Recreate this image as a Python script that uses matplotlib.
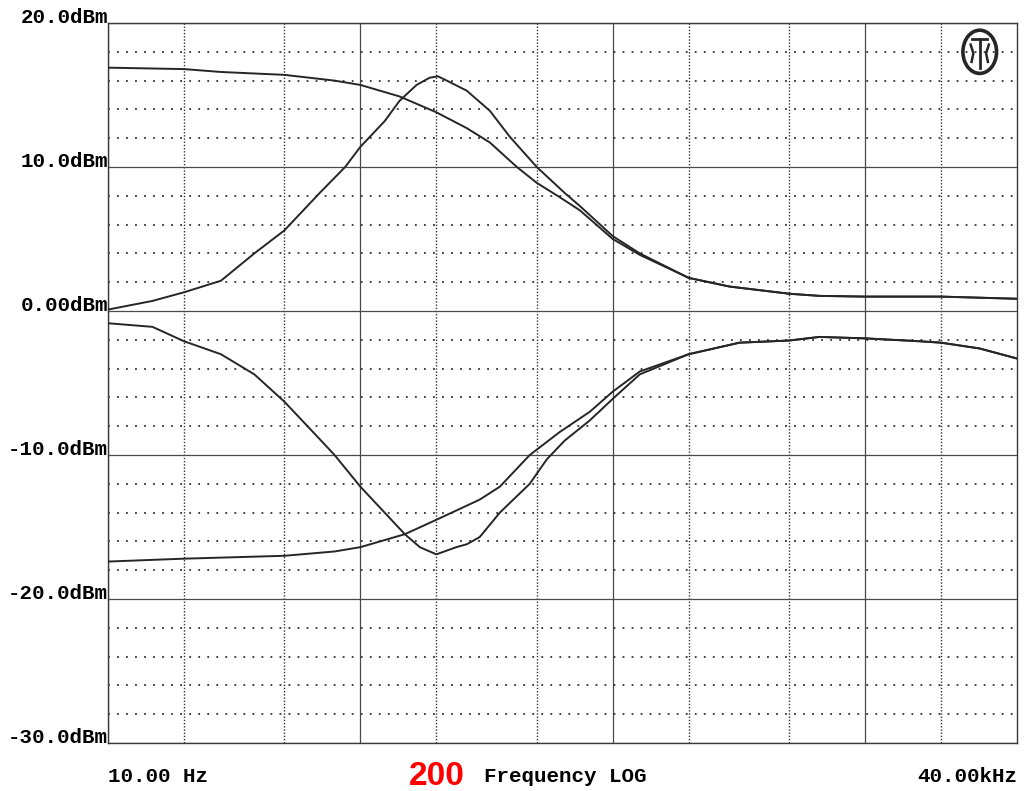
import numpy as np
import matplotlib
matplotlib.use("Agg")
import matplotlib.pyplot as plt
from matplotlib.patches import Ellipse
from matplotlib.ticker import FixedLocator, NullFormatter
import matplotlib.transforms as mtrans

# frequency (Hz) / level (dBm)
boost_peak_f = [10, 15, 20, 28, 38, 50, 69, 87, 100, 125, 143, 167, 188, 203, 220, 264,
                326, 391, 500, 645, 740, 1000, 1280, 2000, 2900, 5000, 6600, 10000, 20000, 40000]
boost_peak_db = [0.1, 0.7, 1.3, 2.1, 4.0, 5.6, 8.2, 10.0, 11.4, 13.2, 14.6, 15.7, 16.2, 16.3, 16.0, 15.3,
                 13.9, 12.1, 10.0, 8.2, 7.3, 5.2, 4.0, 2.3, 1.7, 1.2, 1.05, 1.0, 1.0, 0.85]

boost_shelf_f = [10, 20, 28, 50, 79, 100, 143, 200, 264, 326, 417, 500, 617, 740, 1000,
                 1280, 2000, 2900, 5000, 6600, 10000, 20000, 40000]
boost_shelf_db = [16.9, 16.8, 16.6, 16.4, 16.0, 15.7, 14.9, 13.8, 12.7, 11.7, 10.0, 8.9, 7.9, 7.0, 5.0,
                  3.9, 2.3, 1.7, 1.2, 1.05, 1.0, 1.0, 0.85]

cut_notch_f = [10, 15, 20, 28, 38, 50, 69, 79, 100, 150, 172, 200, 240, 264, 297, 357, 469,
               548, 645, 811, 1000, 1280, 2000, 3180, 5000, 6600, 10000, 16400, 20000, 28400, 40000]
cut_notch_db = [-0.85, -1.1, -2.1, -3.0, -4.4, -6.3, -8.9, -10.0, -12.2, -15.5, -16.4, -16.9, -16.4, -16.2,
                -15.7, -14.0, -12.0, -10.3, -9.0, -7.6, -6.1, -4.4, -3.0, -2.2, -2.05, -1.8, -1.9,
                -2.1, -2.2, -2.6, -3.3]

cut_shelf_f = [10, 20, 50, 79, 100, 150, 200, 297, 357, 469, 617, 811, 1000, 1280, 2000,
               3180, 5000, 6600, 10000, 16400, 20000, 28400, 40000]
cut_shelf_db = [-17.4, -17.2, -17.0, -16.7, -16.4, -15.5, -14.5, -13.1, -12.2, -10.0, -8.4, -7.0, -5.6,
                -4.2, -3.0, -2.2, -2.05, -1.8, -1.9, -2.1, -2.2, -2.6, -3.3]

y_major = [-30, -20, -10, 0, 10, 20]
y_labels = ["-30.0dBm", "-20.0dBm", "-10.0dBm", "0.00dBm", "10.0dBm", "20.0dBm"]
y_minor = [v for v in range(-30, 21, 2) if v % 10 != 0]
x_major = [10, 100, 1000, 10000]
x_minor = [20, 50, 200, 500, 2000, 5000, 20000]

mono = "Liberation Mono"
ink = "#262626"

fig = plt.figure(figsize=(10.25, 7.91), dpi=100)
ax = fig.add_axes([0.1054, 0.0607, 0.8868, 0.9102])

for f, d in [(boost_peak_f, boost_peak_db), (boost_shelf_f, boost_shelf_db),
             (cut_notch_f, cut_notch_db), (cut_shelf_f, cut_shelf_db)]:
    ax.plot(f, d, color=ink, lw=1.4, zorder=3)

ax.set_xscale("log")
ax.set_xlim(10, 40000)
ax.set_ylim(-30, 20)

ax.xaxis.set_major_locator(FixedLocator(x_major))
ax.xaxis.set_minor_locator(FixedLocator(x_minor))
ax.xaxis.set_major_formatter(NullFormatter())
ax.xaxis.set_minor_formatter(NullFormatter())
ax.set_yticks(y_major)
ax.set_yticks(y_minor, minor=True)
ax.set_yticklabels(y_labels, fontfamily=mono, fontweight="bold", fontsize=15)
for lbl in ax.get_yticklabels():
    lbl.set_verticalalignment("baseline")
ax.tick_params(which="both", length=0, pad=0)

# grid: solid decades / 10 dB, dotted in between
ax.xaxis.grid(True, which="major", color="#4a4a4a", lw=0.9, ls="-")
ax.yaxis.grid(True, which="major", color="#4a4a4a", lw=0.9, ls="-")
ax.xaxis.grid(True, which="minor", color="#333333", lw=1.0, ls=(0, (1, 1.3)))
ax.yaxis.grid(True, which="minor", color="#333333", lw=1.3, ls=(0, (1, 4)))
ax.set_axisbelow(True)
for s in ax.spines.values():
    s.set_color("#3a3a3a")
    s.set_linewidth(1.0)

# bottom texts
fig.text(0.1054, 0.0114, "10.00 Hz", family=mono, weight="bold", fontsize=15, ha="left", va="baseline")
fig.text(0.9922, 0.0114, "40.00kHz", family=mono, weight="bold", fontsize=15, ha="right", va="baseline")
fig.text(0.5515, 0.0114, "Frequency LOG", family=mono, weight="bold", fontsize=15, ha="center", va="baseline")
tr = mtrans.blended_transform_factory(ax.transData, fig.transFigure)
ax.text(200, 0.008, "200", transform=tr, color="red", family="Liberation Sans", weight="bold",
        fontsize=24, ha="center", va="baseline", clip_on=False)

# logo in the top right corner
ax.add_patch(Ellipse((0.959, 0.960), 0.037, 0.060, transform=ax.transAxes,
                     fill=False, ec=ink, lw=2.6))
ax.plot([0.951, 0.967], [0.978, 0.978], transform=ax.transAxes, color=ink, lw=2)
ax.plot([0.959, 0.959], [0.978, 0.937], transform=ax.transAxes, color=ink, lw=2)
ax.plot([0.949, 0.952, 0.950], [0.970, 0.958, 0.946], transform=ax.transAxes, color=ink, lw=1.8)
ax.plot([0.969, 0.966, 0.968], [0.970, 0.958, 0.946], transform=ax.transAxes, color=ink, lw=1.8)

fig.savefig("out.png", dpi=100, facecolor="white")
